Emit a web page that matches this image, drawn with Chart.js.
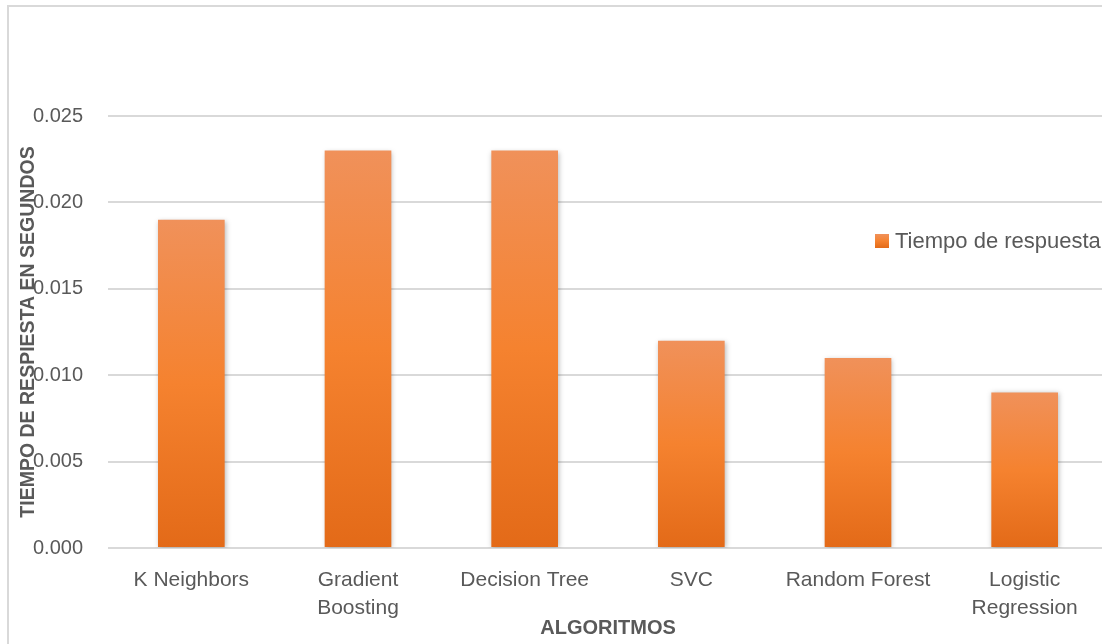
<!DOCTYPE html>
<html>
<head>
<meta charset="utf-8">
<script src="https://cdn.jsdelivr.net/npm/chart.js@4"></script>
<style>
  html, body { margin: 0; padding: 0; background: #fff; overflow: hidden; }
  #wrap { position: absolute; left: 0; top: 0; width: 1110px; height: 644px; }
</style>
</head>
<body>
<div id="wrap"><canvas id="chart" width="1110" height="644"></canvas></div>
<script>
// --- data -------------------------------------------------------------------
const algoritmos = [['K Neighbors'], ['Gradient', 'Boosting'], ['Decision Tree'], ['SVC'], ['Random Forest'], ['Logistic', 'Regression']];
const tiempos = [0.019, 0.023, 0.023, 0.012, 0.011, 0.009];
const yTickValues = [0, 0.005, 0.010, 0.015, 0.020, 0.025];
const serieLabel = 'Tiempo de respuesta';
const xTitle = 'ALGORITMOS';
const yTitle = 'TIEMPO DE RESPIESTA EN SEGUNDOS';

const TEXT = '#595959';
const GRID = '#d9d9d9';
const FONT = "'Liberation Sans', Arial, sans-serif";

// Excel-like vertical gradient, per bar
function barGradient(ctx, top, bottom) {
  const g = ctx.createLinearGradient(0, top, 0, bottom);
  g.addColorStop(0, '#f0915a');
  g.addColorStop(0.5, '#f5822f');
  g.addColorStop(1, '#e36a18');
  return g;
}

function barFill(context) {
  const chart = context.chart;
  const y = chart.scales && chart.scales.y;
  if (!chart.chartArea || !y || context.raw == null) return '#f27f2f';
  return barGradient(chart.ctx, y.getPixelForValue(context.raw), y.getPixelForValue(0));
}

// outer frame of the chart object
const framePlugin = {
  id: 'frame',
  beforeDraw(chart) {
    const ctx = chart.ctx;
    ctx.save();
    ctx.strokeStyle = GRID;
    ctx.lineWidth = 2;
    ctx.strokeRect(8, 6, chart.width + 50, chart.height + 50);
    ctx.restore();
  }
};

// soft shadow under bars
const shadowPlugin = {
  id: 'barShadow',
  beforeDatasetsDraw(chart) {
    const ctx = chart.ctx;
    ctx.save();
    ctx.shadowColor = 'rgba(0,0,0,0.28)';
    ctx.shadowBlur = 5;
    ctx.shadowOffsetX = 1;
    ctx.shadowOffsetY = 1;
  },
  afterDatasetsDraw(chart) { chart.ctx.restore(); }
};

// legend floating over the plot, as in Excel
const floatLegend = {
  id: 'floatLegend',
  afterDraw(chart) {
    const ctx = chart.ctx;
    const ds = chart.data.datasets[0];
    const cy = 241;
    ctx.save();
    ctx.fillStyle = barGradient(ctx, cy - 7, cy + 7);
    ctx.fillRect(875, cy - 7, 14, 14);
    ctx.fillStyle = TEXT;
    ctx.font = '22px ' + FONT;
    ctx.textBaseline = 'middle';
    ctx.textAlign = 'left';
    ctx.fillText(ds.label, 895, cy + 1);
    ctx.restore();
  }
};

new Chart(document.getElementById('chart'), {
  type: 'bar',
  data: {
    labels: algoritmos,
    datasets: [{
      label: serieLabel,
      data: tiempos,
      backgroundColor: barFill,
      borderWidth: 0,
      categoryPercentage: 1,
      barPercentage: 0.4,
    }],
  },
  options: {
    responsive: false,
    devicePixelRatio: 1,
    animation: false,
    layout: { padding: { top: 116, left: 13, right: 2, bottom: 0 } },
    plugins: {
      legend: { display: false },
      tooltip: { enabled: false },
    },
    scales: {
      x: {
        grid: { display: false, drawTicks: false },
        border: { display: false },
        ticks: {
          color: TEXT, font: { family: FONT, size: 21, lineHeight: 1.35 },
          padding: 18, maxRotation: 0, autoSkip: false,
        },
        title: {
          display: true, text: xTitle, color: TEXT,
          font: { family: FONT, size: 20, weight: 'bold', lineHeight: 1.2 },
        },
        afterFit(scale) { scale.height = 96; },
      },
      y: {
        min: 0, max: 0.025,
        afterBuildTicks(scale) { scale.ticks = yTickValues.map(v => ({ value: v })); },
        grid: { color: GRID, lineWidth: 2, drawTicks: false },
        border: { display: false },
        ticks: {
          color: TEXT, font: { family: FONT, size: 20 }, padding: 25,
          callback: v => Number(v).toFixed(3),
        },
        title: {
          display: true, text: yTitle, color: TEXT,
          font: { family: FONT, size: 19.5, weight: 'bold', lineHeight: 1.2 },
        },
        afterFit(scale) { scale.width = 95; },
      },
    },
  },
  plugins: [framePlugin, shadowPlugin, floatLegend],
});
</script>
</body>
</html>
